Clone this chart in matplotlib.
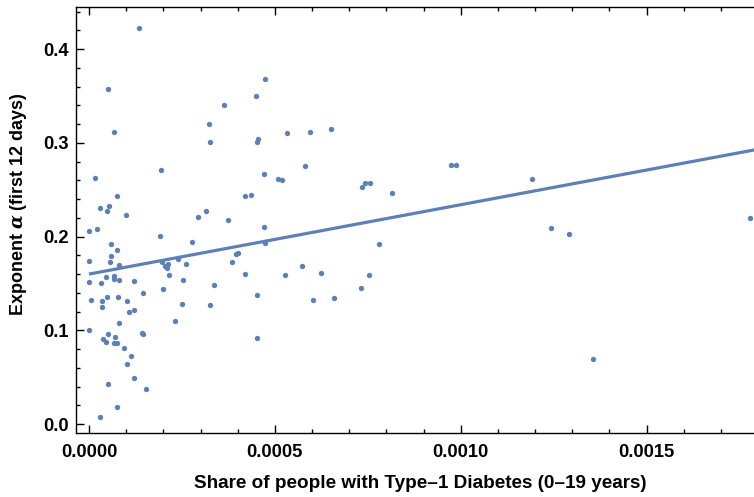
import numpy as np
import matplotlib
matplotlib.use("Agg")
import matplotlib.pyplot as plt
from matplotlib.ticker import MultipleLocator, FormatStrFormatter

# share of people with type-1 diabetes (0-19 years)
share = [
    0.000135, 0.0000503, 0.000362, 0.000324, 0.0000664, 0.000326, 0.000194, 0.0000153,
    0.0000745, 0.0000296, 0.000053, 0.0000484, 0.0000987, 0.000294, 0.000315, 0.000374,
    0.0, 0.0000224, 0.000192, 0.000277, 0.00006, 0.0000753, 0.0000583, 0.0000574,
    0.0, 0.0000816, 0.000196, 0.000205, 0.000212, 0.000211, 0.00024, 0.000261,
    0.000216, 0.0000457, 0.0000664, 0.0000673, 0.0000816, 0.0, 0.0000314, 0.00012,
    0.000254, 0.000335, 0.000146, 0.000198, 0.0000475, 0.0000771, 0.0000046, 0.0000341,
    0.000102, 0.000251, 0.000326, 0.0000359, 0.000121, 0.000108, 0.000231, 0.0000807,
    0.0, 0.000143, 0.000144, 0.0000511, 0.0000385, 0.0000466, 0.000069, 0.000066,
    0.000076, 0.0000942, 0.000114, 0.000103, 0.0000503, 0.000121, 0.000152, 0.0000745,
    0.0000305, 0.000395, 0.000401, 0.000384, 0.000474, 0.000448, 0.000532, 0.000595,
    0.00065, 0.000455, 0.000453, 0.000581, 0.000472, 0.000508, 0.000519, 0.000734,
    0.000742, 0.000757, 0.000815, 0.00042, 0.000436, 0.00047, 0.000474, 0.000781,
    0.000419, 0.000451, 0.000452, 0.000527, 0.000573, 0.000603, 0.000624, 0.000659,
    0.000732, 0.000753, 0.000974, 0.000986, 0.001191, 0.001243, 0.001291, 0.001356,
    0.001779,
]
# exponent alpha (first 12 days)
alpha = [
    0.4225, 0.357, 0.340, 0.320, 0.312, 0.301, 0.2707, 0.2625,
    0.243, 0.230, 0.2323, 0.2273, 0.2234, 0.221, 0.227, 0.2177,
    0.2063, 0.2078, 0.2006, 0.1939, 0.192, 0.1857, 0.1793, 0.1729,
    0.174, 0.1693, 0.173, 0.169, 0.171, 0.166, 0.176, 0.1708,
    0.159, 0.157, 0.158, 0.1544, 0.1534, 0.1516, 0.1505, 0.1526,
    0.1534, 0.148, 0.1398, 0.1438, 0.1355, 0.1352, 0.1323, 0.1316,
    0.1316, 0.1284, 0.1273, 0.1249, 0.122, 0.1195, 0.1099, 0.1081,
    0.1, 0.0967, 0.0957, 0.096, 0.091, 0.0872, 0.0928, 0.086,
    0.0865, 0.0811, 0.0726, 0.0637, 0.043, 0.0488, 0.0377, 0.0181,
    0.0075, 0.181, 0.1824, 0.1726, 0.3685, 0.3504, 0.311, 0.312,
    0.3145, 0.3042, 0.3006, 0.2757, 0.2671, 0.2615, 0.2607, 0.2526,
    0.2575, 0.2572, 0.2462, 0.243, 0.244, 0.2106, 0.1935, 0.192,
    0.160, 0.138, 0.0914, 0.1594, 0.169, 0.1323, 0.1611, 0.1348,
    0.1451, 0.1594, 0.2764, 0.2764, 0.2618, 0.2088, 0.2028, 0.0697,
    0.2199,
]
# fitted line ends
fit_x = [0.0, 0.00179]
fit_y = [0.160, 0.2925]

blue = "#5E81B5"

plt.rcParams['font.family'] = ['Liberation Sans', 'DejaVu Sans']
plt.rcParams['font.weight'] = 'bold'
plt.rcParams['mathtext.fontset'] = 'dejavuserif'

fig = plt.figure(figsize=(7.54, 4.97), dpi=100)
ax = fig.add_axes([0.1004, 0.1282, 0.8996, 0.8571])

ax.scatter(share, alpha, s=15, color=blue, linewidths=0, zorder=3)
ax.plot(fit_x, fit_y, color=blue, lw=2.3, solid_capstyle='butt', zorder=2)

ax.set_xlim(-0.0000358, 0.001789)
ax.set_ylim(-0.0099, 0.4447)

ax.xaxis.set_major_locator(MultipleLocator(0.0005))
ax.xaxis.set_minor_locator(MultipleLocator(0.0001))
ax.yaxis.set_major_locator(MultipleLocator(0.1))
ax.yaxis.set_minor_locator(MultipleLocator(0.02))
ax.xaxis.set_major_formatter(FormatStrFormatter('%.4f'))
ax.yaxis.set_major_formatter(FormatStrFormatter('%.1f'))

ax.spines['right'].set_visible(False)
for s in ['left', 'bottom', 'top']:
    ax.spines[s].set_linewidth(1.0)

ax.tick_params(which='both', direction='in', top=True, right=False, labelsize=13.2, width=1.0)
ax.tick_params(which='major', length=5.5)
ax.tick_params(which='minor', length=3.2)
ax.tick_params(axis='x', which='major', pad=8)
ax.tick_params(axis='y', which='major', pad=5)

ax.set_xlabel("Share of people with Type\u20131 Diabetes (0\u201319 years)", fontsize=13.6, fontweight='bold')
ax.set_ylabel("Exponent $\\alpha$ (first 12 days)", fontsize=13, fontweight='bold')
ax.xaxis.set_label_coords(0.5076, -0.117)
ax.yaxis.set_label_coords(-0.085, 0.538)
ax.xaxis.label.set_va('center')
ax.yaxis.label.set_va('center')

fig.savefig("out.png", dpi=100)
